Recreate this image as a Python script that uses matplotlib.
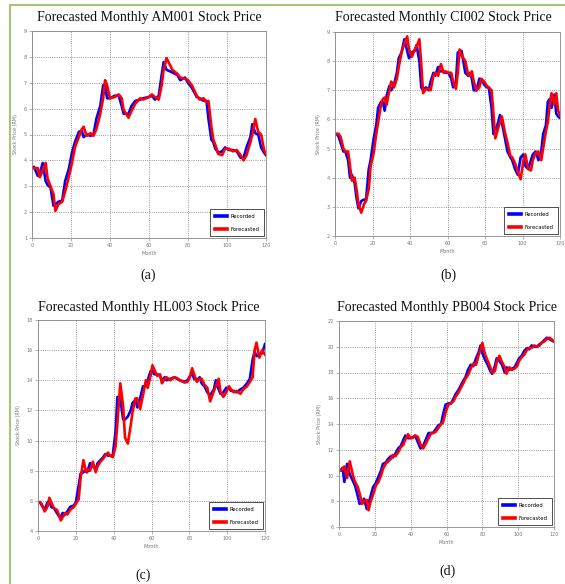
import matplotlib
matplotlib.use("Agg")
import matplotlib.pyplot as plt
from matplotlib.lines import Line2D

# ---- data (month, price in RM) ----
months_a = [0, 1, 3, 4, 5.5, 7, 8, 9.5, 11, 12,
            13.5, 15.5, 17, 19, 20.5, 22, 24, 25.5, 26.5, 28,
            30, 31.5, 33, 35, 36.5, 37.5, 38.5, 40, 42.5, 44.5,
            46, 47, 49.5, 51, 53, 55.5, 57, 60, 61.5, 63,
            65, 66.5, 67.5, 69, 72, 74.5, 76, 78.5, 80, 82,
            84.5, 86, 88, 89.5, 90.5, 92, 93, 94, 95.5, 97.5,
            99, 101, 103, 105, 107, 108.5, 110, 112, 113, 114.5,
            116, 117.5, 119, 120]
recorded_a = [3.7, 3.75, 3.4, 3.5, 3.9, 3.2, 3.05, 2.95, 2.25, 2.3,
              2.4, 2.45, 3.2, 3.7, 4.3, 4.7, 5.1, 5.15, 4.9, 5.0,
              4.95, 5.0, 5.6, 6.1, 6.9, 6.95, 6.4, 6.4, 6.5, 6.5,
              6.1, 5.8, 5.8, 6.1, 6.3, 6.35, 6.4, 6.45, 6.5, 6.35,
              6.5, 7.3, 7.8, 7.5, 7.4, 7.3, 7.1, 7.2, 7.0, 6.8,
              6.45, 6.4, 6.3, 6.3, 5.6, 4.8, 4.7, 4.45, 4.3, 4.35,
              4.5, 4.4, 4.4, 4.35, 4.1, 4.1, 4.5, 4.9, 5.4, 5.05,
              5.0, 4.5, 4.3, 4.2]
forecast_a = [3.7, 3.7, 3.7, 3.35, 3.6, 3.9, 3.3, 3.0, 2.7, 2.05,
              2.3, 2.4, 2.8, 3.4, 3.9, 4.5, 4.9, 5.2, 5.3, 4.95,
              5.05, 4.95, 5.2, 5.8, 6.4, 7.1, 6.9, 6.4, 6.45, 6.55,
              6.4, 5.95, 5.65, 5.9, 6.2, 6.4, 6.35, 6.45, 6.55, 6.45,
              6.35, 6.9, 7.5, 7.95, 7.5, 7.35, 7.2, 7.15, 7.1, 6.9,
              6.5, 6.35, 6.4, 6.25, 6.3, 5.3, 4.8, 4.6, 4.25, 4.2,
              4.45, 4.45, 4.35, 4.4, 4.2, 4.0, 4.2, 4.7, 5.0, 5.6,
              5.1, 5.0, 4.4, 4.25]

months_b = [1, 2, 3, 4.5, 5.5, 7, 8, 9, 10.5, 11.5,
            12.5, 14, 15.5, 16.5, 18, 19, 20.5, 22, 23, 24.5,
            25.5, 26.5, 27.5, 29, 30, 31.5, 33, 34, 35.5, 37,
            38.5, 39.5, 41, 42.5, 43.5, 45, 46, 47, 48.5, 50,
            51, 52.5, 53.5, 55, 56.5, 58, 59, 60.5, 62, 63,
            64.5, 65.5, 66.5, 67.5, 69.5, 71, 72, 73, 74, 75.5,
            77, 78, 79.5, 81, 82, 83.5, 84.5, 85.5, 87, 88,
            89, 90.5, 92, 93.5, 94.5, 96, 97.5, 99, 100.5, 101.5,
            103, 104.5, 105.5, 107, 108.5, 110, 111, 112.5, 113.5, 114.5,
            115.5, 117, 118, 119, 120]
recorded_b = [5.5, 5.4, 5.2, 4.9, 4.9, 4.6, 4.0, 4.1, 3.8, 3.3,
              2.95, 3.2, 3.25, 3.2, 4.3, 4.6, 5.3, 5.8, 6.4, 6.6,
              6.6, 6.3, 6.8, 7.15, 7.0, 7.2, 7.6, 8.1, 8.3, 8.75,
              8.35, 8.1, 8.3, 8.35, 8.55, 8.0, 7.1, 7.0, 7.1, 7.0,
              7.3, 7.6, 7.5, 7.8, 7.65, 7.65, 7.6, 7.6, 7.4, 7.1,
              7.3, 8.3, 8.2, 8.35, 7.6, 7.5, 7.6, 7.4, 7.0, 7.0,
              7.4, 7.35, 7.2, 7.1, 7.1, 6.4, 5.5, 5.6, 5.9, 6.15,
              5.9, 5.4, 4.9, 4.7, 4.6, 4.3, 4.1, 4.7, 4.8, 4.4,
              4.3, 4.6, 4.8, 4.9, 4.6, 4.9, 5.5, 5.8, 6.6, 6.7,
              6.4, 6.85, 6.2, 6.1, 6.05]
forecast_b = [5.5, 5.5, 5.4, 5.0, 4.9, 4.9, 4.4, 3.9, 4.0, 3.6,
              3.1, 2.8, 3.1, 3.2, 3.6, 4.4, 4.8, 5.5, 5.9, 6.5,
              6.7, 6.75, 6.5, 7.0, 7.3, 7.1, 7.4, 7.8, 8.3, 8.6,
              8.85, 8.4, 8.15, 8.4, 8.5, 8.75, 7.9, 6.9, 7.05, 7.05,
              7.0, 7.5, 7.6, 7.5, 7.9, 7.6, 7.65, 7.6, 7.6, 7.3,
              7.05, 7.6, 8.4, 8.2, 8.0, 7.55, 7.5, 7.65, 7.3, 7.0,
              7.1, 7.4, 7.3, 7.15, 7.1, 7.0, 6.2, 5.35, 5.7, 5.9,
              6.1, 5.6, 5.2, 4.75, 4.7, 4.5, 4.2, 3.95, 4.6, 4.8,
              4.3, 4.25, 4.6, 4.85, 4.9, 4.6, 5.0, 5.6, 5.9, 6.5,
              6.9, 6.5, 6.9, 6.3, 6.15]

months_c = [1, 2, 3.5, 5, 6, 7, 8.5, 10, 11, 12,
            13, 14.5, 15.5, 17, 19, 20, 21.5, 22.5, 24, 25.5,
            26, 27.5, 29, 30.5, 31.5, 33, 34.5, 35.5, 37, 38,
            39.5, 41, 42, 43.5, 45, 46, 47.5, 49, 50, 51.5,
            52.5, 54, 55.5, 57, 58, 59.5, 60.5, 61.5, 63, 64.5,
            65.5, 67, 68, 70, 72, 73.5, 75, 77.5, 79, 80,
            81.5, 82.5, 84, 85.5, 86.5, 88, 89.5, 91, 93, 94,
            95.5, 96.5, 98, 99.5, 101, 102, 103.5, 105, 107, 108.5,
            110.5, 112, 113.5, 114.5, 115.5, 117, 118.5, 120]
recorded_c = [5.9, 5.7, 5.4, 5.9, 6.0, 5.6, 5.5, 5.2, 5.0, 4.9,
              5.2, 5.1, 5.3, 5.6, 5.7, 5.9, 7.0, 7.8, 7.9, 8.1,
              7.9, 8.5, 8.3, 8.1, 8.5, 8.7, 8.9, 9.1, 9.0, 9.0,
              9.0, 10.6, 12.9, 12.8, 11.4, 11.4, 11.6, 12.0, 12.5, 12.7,
              12.2, 12.8, 13.6, 13.6, 14.0, 14.6, 14.6, 14.4, 14.4, 14.3,
              14.0, 14.2, 14.0, 14.1, 14.2, 14.1, 14.0, 13.9, 14.0, 14.2,
              14.5, 14.1, 14.0, 14.2, 13.8, 13.6, 13.2, 13.0, 13.4, 14.0,
              13.4, 13.1, 13.2, 13.5, 13.5, 13.3, 13.3, 13.2, 13.4, 13.5,
              13.8, 14.1, 15.4, 15.9, 15.6, 15.7, 15.8, 16.4]
forecast_c = [5.9, 5.8, 5.3, 5.6, 6.2, 5.9, 5.5, 5.4, 5.1, 4.7,
              4.9, 5.2, 5.1, 5.4, 5.6, 5.8, 6.1, 7.5, 8.7, 7.9,
              8.1, 8.0, 8.6, 7.9, 8.3, 8.6, 8.8, 9.0, 9.2, 9.0,
              8.9, 9.6, 11.2, 13.8, 12.3, 10.2, 9.8, 11.0, 11.9, 12.8,
              12.8, 12.1, 13.0, 14.0, 13.5, 14.3, 15.0, 14.7, 14.3, 14.4,
              13.8, 14.1, 14.2, 14.0, 14.2, 14.15, 14.0, 13.85, 13.9, 14.1,
              14.8, 14.4, 13.9, 14.1, 14.1, 13.7, 13.5, 12.6, 13.3, 13.6,
              14.1, 13.2, 12.9, 13.2, 13.6, 13.4, 13.2, 13.3, 13.1, 13.4,
              13.6, 13.9, 14.2, 16.0, 16.5, 15.5, 16.0, 15.7]

months_d = [1, 2, 3, 4.5, 6, 8, 9, 10.5, 11.5, 13,
            14, 15.5, 16.5, 17.5, 19, 20.5, 22, 23.5, 24.5, 26,
            27.5, 29, 30, 31.5, 33, 34.5, 36, 37, 38.5, 40,
            41.5, 42.5, 44, 45.5, 47, 48.5, 50, 51.5, 52.5, 54,
            55.5, 57, 58, 59.5, 61, 62.5, 64, 65, 66.5, 68,
            69.5, 70.5, 72, 73.5, 75, 76.5, 78, 79, 80, 81.5,
            83, 84.5, 85.5, 87, 88, 89.5, 91, 92.5, 93.5, 95,
            96.5, 98, 99.5, 100.5, 102, 103.5, 105, 106, 107.5, 109,
            110.5, 112, 113, 114.5, 116, 117.5, 118.5, 120]
recorded_d = [10.4, 10.6, 9.5, 10.9, 10.1, 9.5, 9.2, 8.4, 7.8, 7.9,
              8.2, 7.4, 7.9, 8.3, 9.1, 9.4, 9.9, 10.4, 10.9, 11.0,
              11.3, 11.5, 11.4, 11.7, 12.1, 12.3, 12.8, 13.1, 12.9, 12.9,
              13.0, 13.1, 12.6, 12.1, 12.3, 12.8, 13.3, 13.3, 13.3, 13.6,
              13.9, 14.0, 14.7, 15.5, 15.6, 15.6, 16.0, 16.3, 16.6, 17.0,
              17.4, 17.6, 18.2, 18.6, 18.5, 19.1, 19.6, 20.1, 19.5, 19.0,
              18.6, 18.1, 17.9, 18.5, 19.1, 18.9, 18.6, 18.0, 18.4, 18.2,
              18.3, 18.4, 18.8, 19.1, 19.3, 19.7, 19.9, 19.8, 20.1, 20.0,
              20.0, 20.2, 20.3, 20.5, 20.7, 20.6, 20.5, 20.4]
forecast_d = [10.4, 10.5, 10.7, 9.8, 11.1, 9.9, 9.5, 9.1, 8.6, 7.8,
              8.0, 8.1, 7.3, 7.9, 8.5, 9.2, 9.5, 10.0, 10.5, 10.9,
              11.1, 11.3, 11.6, 11.5, 11.8, 12.2, 12.4, 12.8, 13.2, 12.9,
              12.95, 13.1, 13.0, 12.4, 12.1, 12.5, 12.9, 13.3, 13.3, 13.4,
              13.7, 14.0, 14.1, 14.9, 15.5, 15.6, 15.8, 16.1, 16.4, 16.8,
              17.2, 17.5, 17.8, 18.3, 18.7, 18.6, 19.4, 19.8, 20.3, 19.4,
              18.9, 18.4, 18.0, 18.1, 18.8, 19.3, 18.8, 18.4, 17.9, 18.4,
              18.2, 18.3, 18.5, 18.9, 19.2, 19.4, 19.8, 19.9, 19.9, 20.1,
              20.0, 20.1, 20.3, 20.4, 20.6, 20.7, 20.6, 20.4]

titles = ["Forecasted Monthly AM001 Stock Price",
          "Forecasted Monthly CI002 Stock Price",
          "Forecasted Monthly HL003 Stock Price",
          "Forecasted Monthly PB004 Stock Price"]
panel_labels = ["(a)", "(b)", "(c)", "(d)"]
y_ranges = [(1, 9), (2, 9), (4, 18), (6, 22)]
y_steps = [1, 1, 2, 2]

W, H = 565, 584
fig = plt.figure(figsize=(W / 100, H / 100), dpi=100)

# axes boxes in pixels: left, top, right, bottom
boxes = [(32, 31, 266, 238), (335, 32, 560, 236),
         (38, 320, 265, 531), (339, 321, 554, 527)]
title_pos = [(149, 18), (443, 18), (149, 307), (447, 307)]
label_pos = [(148, 275), (448, 275), (143, 575), (447, 571)]

series = [(months_a, recorded_a, forecast_a), (months_b, recorded_b, forecast_b),
          (months_c, recorded_c, forecast_c), (months_d, recorded_d, forecast_d)]

for i in range(4):
    l, t, r, b = boxes[i]
    ax = fig.add_axes([l / W, 1 - b / H, (r - l) / W, (b - t) / H])
    m, rec, fc = series[i]
    ax.plot(m, rec, color="#0000ff", lw=1.9, label="Recorded")
    ax.plot(m, fc, color="#ff0000", lw=1.9, label="Forecasted")
    ax.set_xlim(0, 120)
    lo, hi = y_ranges[i]
    ax.set_ylim(lo, hi)
    ax.set_xticks(range(0, 121, 20))
    ax.set_yticks(range(lo, hi + 1, y_steps[i]))
    ax.grid(True, color="#777777", linestyle=":", linewidth=0.6)
    ax.tick_params(labelsize=3.5, colors="#777777", length=2, width=0.4, pad=1.5)
    for sp in ax.spines.values():
        sp.set_color("#888888")
        sp.set_linewidth(0.6)
    ax.set_xlabel("Month", fontsize=3.5, color="#777777", labelpad=2)
    ax.set_ylabel("Stock Price (RM)", fontsize=3.5, color="#777777", labelpad=4)
    leg = ax.legend(loc="lower right", fontsize=3.8, handlelength=2.3,
                    handletextpad=0.7, borderpad=0.9, labelspacing=1.5,
                    fancybox=False, framealpha=1, edgecolor="#333333",
                    borderaxespad=0.3)
    leg.get_frame().set_linewidth(0.6)
    for h in leg.get_lines():
        h.set_linewidth(2.6)

    tx, ty = title_pos[i]
    fig.text(tx / W, 1 - ty / H, titles[i], ha="center", va="center",
             fontsize=10, family="Liberation Serif", color="#111111")
    px, py = label_pos[i]
    fig.text(px / W, 1 - py / H, panel_labels[i], ha="center", va="center",
             fontsize=10, family="Liberation Serif", color="#111111")

# green page frame
green = "#a6c47c"
fig.add_artist(Line2D([9.5 / W, 9.5 / W], [0, 1 - 5 / H], color=green, lw=1.5,
                      transform=fig.transFigure))
fig.add_artist(Line2D([9.5 / W, 1], [1 - 5 / H, 1 - 5 / H], color=green, lw=1.5,
                      transform=fig.transFigure))

plt.savefig("out.png", dpi=100)
